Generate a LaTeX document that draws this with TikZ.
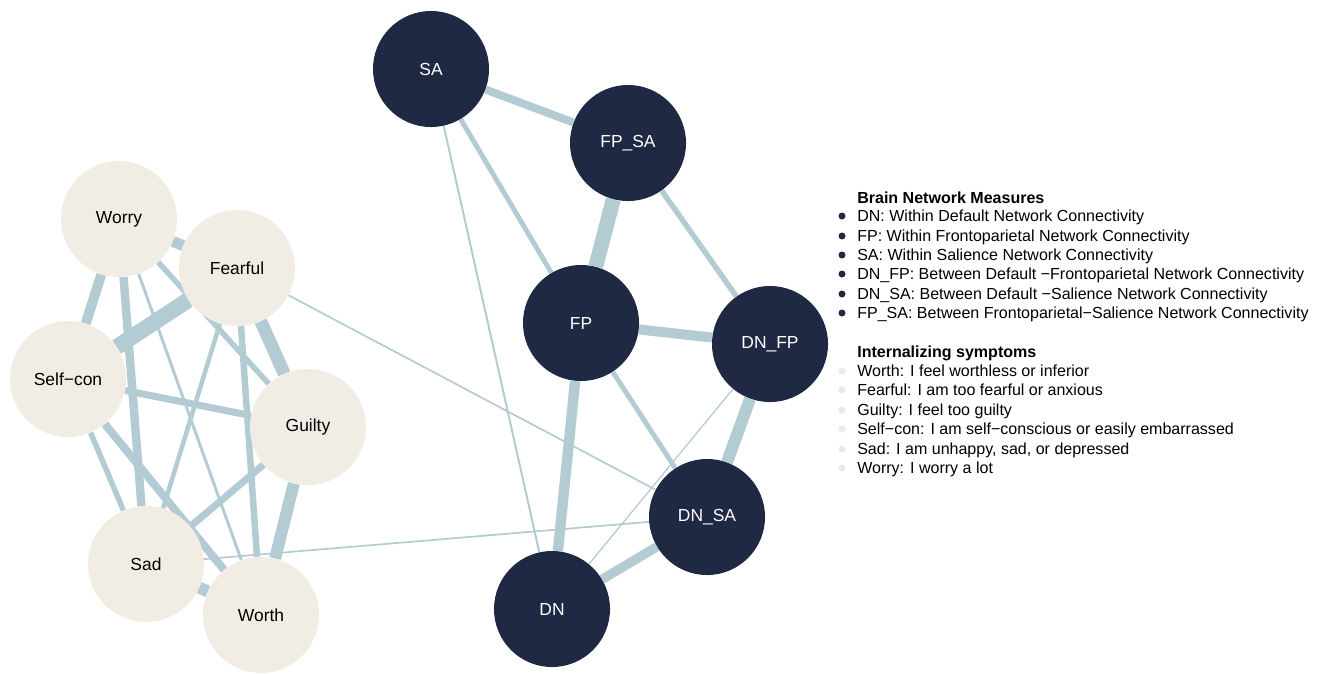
\documentclass[tikz,border=0pt]{standalone}
\usepackage{fontspec}
\setmainfont{Liberation Sans}
\usetikzlibrary{backgrounds}
\definecolor{navy}{HTML}{1F2944}
\definecolor{beige}{HTML}{F2EDE4}
\definecolor{linkcol}{HTML}{B3CBD2}
\definecolor{dotlight}{HTML}{ECE9E1}
\tikzset{
  brain/.style={circle, fill=navy, text=white, minimum size=2.9cm, inner sep=0pt, font=\fontsize{12.4}{14}\selectfont},
  symptom/.style={circle, fill=beige, text=black, minimum size=2.9cm, inner sep=0pt, font=\fontsize{12.4}{14}\selectfont},
  link/.style={draw=linkcol, line width=#1},
  legtext/.style={anchor=base west, inner sep=0pt, font=\fontsize{11.4}{13}\selectfont},
  leghead/.style={legtext, font=\fontsize{11.4}{13}\selectfont\bfseries}
}
\begin{document}
\begin{tikzpicture}[x=0.025cm, y=-0.025cm]
  \useasboundingbox (0,0) rectangle (1320,673);
  \node[brain] (sa) at (431,69) {SA};
  \node[brain] (fpsa) at (628,143) {FP\_SA};
  \node[brain] (fp) at (581,323) {FP};
  \node[brain] (dnfp) at (770,344) {DN\_FP};
  \node[brain] (dnsa) at (707,517) {DN\_SA};
  \node[brain] (dn) at (552,609) {DN};
  \node[symptom] (worry) at (119,219) {Worry};
  \node[symptom] (fearful) at (237,268) {Fearful};
  \node[symptom] (selfcon) at (68,379) {Self−con};
  \node[symptom] (guilty) at (308,427) {Guilty};
  \node[symptom] (sad) at (146,564) {Sad};
  \node[symptom] (worth) at (261,615) {Worth};
  \begin{pgfonlayer}{background}
    \draw[link=7.8pt] (worry) -- (fearful);
    \draw[link=7.1pt] (worry) -- (selfcon);
    \draw[link=6pt] (worry) -- (sad);
    \draw[link=2.1pt] (worry) -- (worth);
    \draw[link=3.9pt] (worry) -- (guilty);
    \draw[link=11.3pt] (fearful) -- (selfcon);
    \draw[link=9.2pt] (fearful) -- (guilty);
    \draw[link=4.6pt] (fearful) -- (worth);
    \draw[link=3.2pt] (fearful) -- (sad);
    \draw[link=1.2pt] (fearful) -- (dnsa);
    \draw[link=5pt] (selfcon) -- (guilty);
    \draw[link=3.9pt] (selfcon) -- (sad);
    \draw[link=5.7pt] (selfcon) -- (worth);
    \draw[link=5pt] (guilty) -- (sad);
    \draw[link=8.5pt] (guilty) -- (worth);
    \draw[link=8.5pt] (sad) -- (worth);
    \draw[link=1.2pt] (sad) -- (dnsa);
    \draw[link=5.7pt] (sa) -- (fpsa);
    \draw[link=3.5pt] (sa) -- (fp);
    \draw[link=1.4pt] (sa) -- (dn);
    \draw[link=10.6pt] (fpsa) -- (fp);
    \draw[link=3.9pt] (fpsa) -- (dnfp);
    \draw[link=7.1pt] (fp) -- (dnfp);
    \draw[link=7.4pt] (fp) -- (dn);
    \draw[link=3.5pt] (fp) -- (dnsa);
    \draw[link=8.5pt] (dnfp) -- (dnsa);
    \draw[link=0.9pt] (dnfp) -- (dn);
    \draw[link=6.7pt] (dnsa) -- (dn);
  \end{pgfonlayer}
  \node[leghead] (brainhead) at (857,203) {Brain Network Measures};
  \node[legtext] (leg1) at (857,221) {DN: Within Default Network Connectivity};
  \node[legtext] (leg2) at (857,241) {FP: Within Frontoparietal Network Connectivity};
  \node[legtext] (leg3) at (857,260) {SA: Within Salience Network Connectivity};
  \node[legtext] (leg4) at (857,279) {DN\_FP: Between Default −Frontoparietal Network Connectivity};
  \node[legtext] (leg5) at (857,299) {DN\_SA: Between Default −Salience Network Connectivity};
  \node[legtext] (leg6) at (857,318) {FP\_SA: Between Frontoparietal−Salience Network Connectivity};
  \node[leghead] (symhead) at (857,357) {Internalizing symptoms};
  \node[legtext] (leg7) at (857,376) {Worth: I feel worthless or inferior};
  \node[legtext] (leg8) at (857,395) {Fearful: I am too fearful or anxious};
  \node[legtext] (leg9) at (857,415) {Guilty: I feel too guilty};
  \node[legtext] (leg10) at (857,434) {Self−con: I am self−conscious or easily embarrassed};
  \node[legtext] (leg11) at (857,454) {Sad: I am unhappy, sad, or depressed};
  \node[legtext] (leg12) at (857,473) {Worry: I worry a lot};
  \fill[navy] (842,216) circle (3.5);
  \fill[navy] (842,236) circle (3.5);
  \fill[navy] (842,255) circle (3.5);
  \fill[navy] (842,274) circle (3.5);
  \fill[navy] (842,294) circle (3.5);
  \fill[navy] (842,313) circle (3.5);
  \fill[dotlight] (842,371) circle (3.5);
  \fill[dotlight] (842,390) circle (3.5);
  \fill[dotlight] (842,410) circle (3.5);
  \fill[dotlight] (842,429) circle (3.5);
  \fill[dotlight] (842,449) circle (3.5);
  \fill[dotlight] (842,468) circle (3.5);
\end{tikzpicture}
\end{document}
